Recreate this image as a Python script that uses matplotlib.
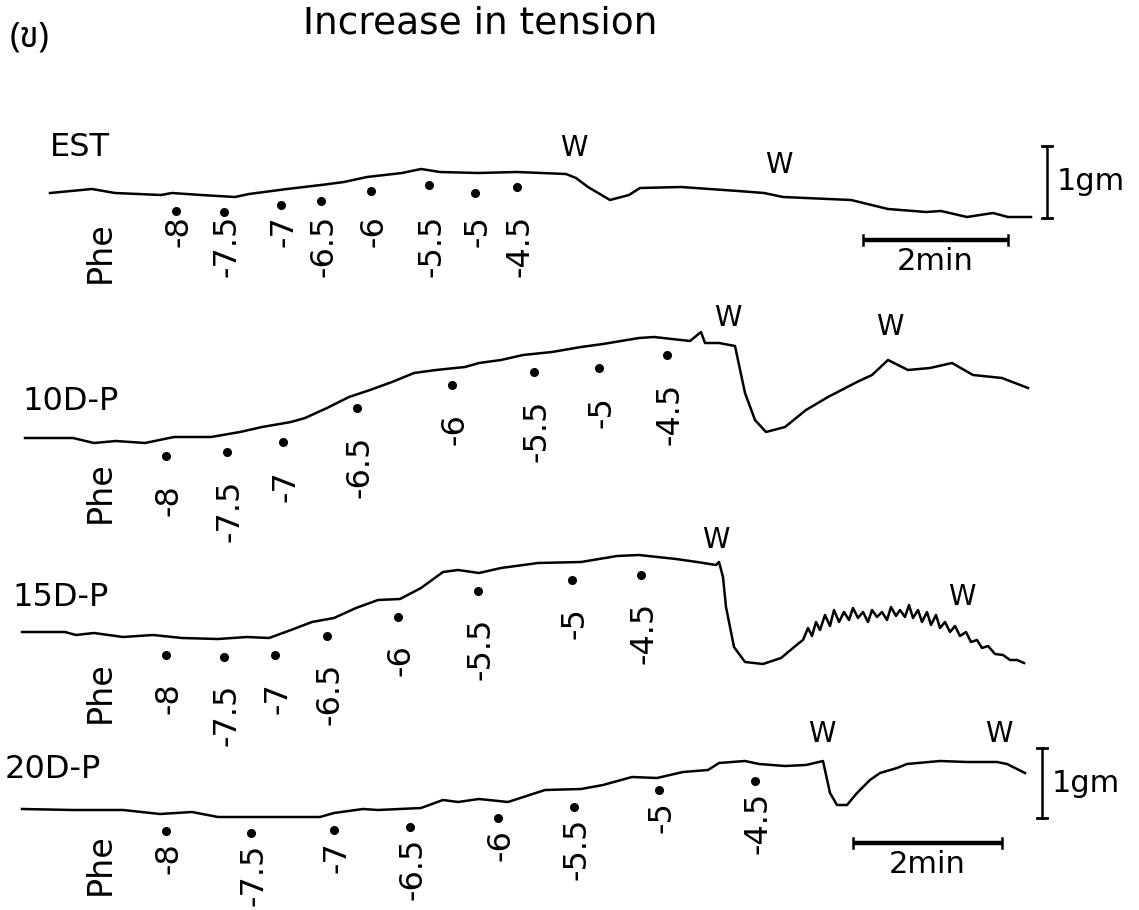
import matplotlib

matplotlib.use("Agg")
from matplotlib import pyplot as plt

plt.rcParams["font.family"] = ["DejaVu Sans", "Noto Sans"]

# pixel-space readings of the four chart recorder traces (x, y down)
est_x = [50, 92, 115, 161, 172, 201, 235, 249, 287, 321, 344, 367, 402, 421, 440, 478, 517, 566,
         576, 588, 610, 629, 640, 681, 738, 764, 783, 851, 888, 926, 941, 967, 993, 1008, 1031]
est_y = [193, 189, 193, 195, 193, 195, 197, 194, 189, 185, 182, 177, 173, 169, 172, 173, 172, 174,
         178, 187, 200, 195, 188, 187, 191, 193, 197, 200, 209, 212, 211, 217, 213, 217, 217]

d10_x = [25, 73, 94, 116, 145, 174, 211, 240, 262, 291, 305, 327, 349, 370, 392, 414, 436, 465, 479,
         501, 523, 552, 581, 603, 639, 654, 690, 701, 705, 719, 735, 745, 755, 766, 785, 806, 828,
         857, 872, 888, 908, 930, 952, 973, 1002, 1028]
d10_y = [438, 438, 443, 441, 443, 437, 437, 432, 427, 422, 418, 408, 397, 390, 382, 373, 370, 367, 363,
         360, 355, 352, 347, 344, 338, 337, 341, 332, 343, 343, 346, 393, 420, 432, 427, 410, 397,
         382, 375, 360, 370, 368, 363, 375, 378, 388]

d15_x = [22, 65, 76, 94, 123, 153, 182, 218, 247, 269, 291, 312, 334, 356, 378, 400, 421, 443, 458,
         479, 501, 538, 581, 617, 639, 676, 697, 716, 719, 723, 726, 734, 745, 763, 781, 799,
         803, 808, 812, 816, 820, 825, 830, 834, 839, 844, 849, 853, 858, 863, 868, 872, 877, 882,
         887, 891, 896, 900, 905, 909, 913, 918, 922, 927, 931, 936, 940, 945, 950, 955, 960, 966,
         971, 977, 982, 988, 995, 1003, 1010, 1017, 1024]
d15_y = [632, 632, 635, 633, 637, 635, 638, 639, 637, 638, 630, 622, 618, 608, 600, 599, 588, 572, 570,
         573, 568, 563, 562, 556, 555, 559, 562, 565, 562, 577, 607, 647, 662, 664, 658, 643,
         640, 628, 636, 622, 630, 615, 626, 610, 622, 612, 620, 608, 618, 612, 622, 610, 617, 612,
         620, 607, 616, 610, 617, 605, 618, 610, 622, 612, 625, 615, 628, 622, 632, 626, 636, 632,
         642, 640, 648, 646, 654, 655, 660, 660, 663]

d20_x = [22, 73, 123, 160, 192, 218, 247, 291, 320, 334, 363, 378, 421, 443, 458, 479, 508, 545, 581,
         603, 632, 657, 683, 708, 719, 745, 759, 785, 806, 823, 830, 837, 847, 857, 870, 880, 897,
         907, 940, 967, 997, 1007, 1025]
d20_y = [809, 810, 810, 814, 812, 817, 817, 817, 817, 813, 809, 810, 808, 800, 802, 799, 802, 790, 789,
         785, 777, 778, 772, 770, 763, 761, 764, 766, 765, 761, 793, 805, 805, 793, 780, 773, 768,
         764, 761, 762, 762, 764, 773]

# phenylephrine doses (log M) and where each dose was marked
doses = ["-8", "-7.5", "-7", "-6.5", "-6", "-5.5", "-5", "-4.5"]
est_dose_x = [176, 224, 281, 321, 371, 429, 475, 517]
est_dose_y = [211, 212, 205, 201, 191, 185, 193, 187]
d10_dose_x = [166, 227, 283, 357, 452, 534, 599, 667]
d10_dose_y = [456, 452, 442, 408, 385, 372, 368, 355]
d15_dose_x = [166, 224, 275, 327, 398, 478, 572, 641]
d15_dose_y = [655, 657, 655, 636, 617, 591, 580, 575]
d20_dose_x = [166, 251, 334, 410, 498, 574, 659, 755]
d20_dose_y = [831, 833, 830, 827, 818, 807, 790, 781]

# washout marks
est_w = [(574, 148), (779, 165)]
d10_w = [(728, 318), (890, 327)]
d15_w = [(716, 540), (962, 597)]
d20_w = [(822, 734), (999, 734)]

rows = [
    ("EST", (50, 147), est_x, est_y, est_dose_x, est_dose_y, est_w, 215, None),
    ("10D-P", (22, 402), d10_x, d10_y, d10_dose_x, d10_dose_y, d10_w, None, 28),
    ("15D-P", (12, 597), d15_x, d15_y, d15_dose_x, d15_dose_y, d15_w, None, 27),
    ("20D-P", (5, 770), d20_x, d20_y, d20_dose_x, d20_dose_y, d20_w, None, 11),
]
phe_y = [221, 461, 661, 833]


def draw_scale(ax, bar_x, bar_top, bar_bottom, min_x0, min_x1, min_y):
    ax.plot([bar_x, bar_x], [bar_top, bar_bottom], color="black", lw=1.8)
    ax.plot([bar_x - 5, bar_x + 5], [bar_top, bar_top], color="black", lw=2)
    ax.plot([bar_x - 5, bar_x + 5], [bar_bottom, bar_bottom], color="black", lw=2)
    ax.text(bar_x + 10, (bar_top + bar_bottom) / 2, "1gm", fontsize=22, va="center", ha="left")
    ax.plot([min_x0, min_x1], [min_y, min_y], color="black", lw=3.2, solid_capstyle="butt")
    ax.plot([min_x0, min_x0], [min_y - 5, min_y + 5], color="black", lw=1.8)
    ax.plot([min_x1, min_x1], [min_y - 5, min_y + 5], color="black", lw=1.8)
    ax.text((min_x0 + min_x1) / 2, min_y + 7, "2min", fontsize=22, va="top", ha="center")


def main() -> None:
    fig = plt.figure(figsize=(11.39, 9.10), dpi=100)
    ax = fig.add_axes([0, 0, 1, 1])
    ax.set_xlim(0, 1139)
    ax.set_ylim(910, 0)
    ax.axis("off")

    ax.text(10, 38, "(ข)", fontsize=25, va="center", ha="left",
            family=["Noto Sans Thai", "Noto Sans", "DejaVu Sans"])
    ax.text(303, 24, "Increase in tension", fontsize=27, va="center", ha="left")

    for (name, name_xy, tx, ty, dx, dy, ws, label_top, label_gap), py in zip(rows, phe_y):
        ax.plot(tx, ty, color="black", lw=1.8)
        ax.plot(dx, dy, "o", color="black", ms=5.5)
        ax.text(name_xy[0], name_xy[1], name, fontsize=23, va="center", ha="left")
        ax.text(100, py, "Phe", fontsize=24, rotation=90, va="top", ha="center")
        for x, y, dose in zip(dx, dy, doses):
            top = label_top if label_top is not None else y + label_gap
            ax.text(x + 3, top, dose, fontsize=23, rotation=90, va="top", ha="center")
        for wx, wy in ws:
            ax.text(wx, wy, "W", fontsize=20, va="center", ha="center")

    draw_scale(ax, 1047, 146, 218, 863, 1008, 240)
    draw_scale(ax, 1042, 748, 818, 853, 1002, 843)

    fig.savefig("out.png", dpi=100, facecolor="white")


main()
